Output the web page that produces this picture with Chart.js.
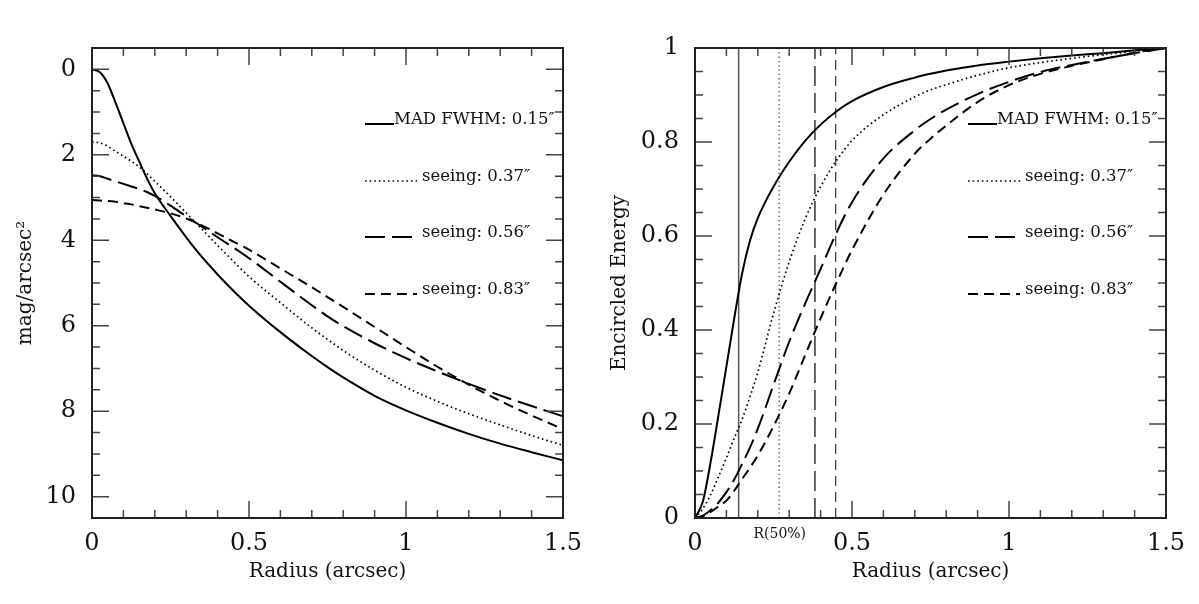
<!DOCTYPE html>
<html><head><meta charset="utf-8">
<script src="https://cdn.jsdelivr.net/npm/chart.js@4.4.1/dist/chart.umd.min.js"></script>
<style>
html,body{margin:0;padding:0;background:#fff;}
#wrap{position:relative;width:1199px;height:604px;overflow:hidden;background:#fff;}
#left{position:absolute;left:0;top:0;}
#right{position:absolute;left:600px;top:0;}
</style></head><body>
<div id="wrap"><canvas id="left" width="600" height="604"></canvas><canvas id="right" width="599" height="604"></canvas></div>
<script>
// ---------- data ----------
const radius = [0, 0.025, 0.05, 0.075, 0.1, 0.125, 0.15, 0.175, 0.2, 0.25, 0.3, 0.35, 0.4, 0.45, 0.5, 0.6, 0.7, 0.75, 0.8, 0.9, 1.0, 1.1, 1.2, 1.3, 1.4, 1.5];
const seriesLabels = ['MAD FWHM: 0.15\u2033', 'seeing: 0.37\u2033', 'seeing: 0.56\u2033', 'seeing: 0.83\u2033'];
// surface brightness (mag/arcsec^2)
const magMAD = [0, 0.07, 0.33, 0.78, 1.26, 1.74, 2.15, 2.55, 2.9, 3.43, 3.93, 4.39, 4.8, 5.18, 5.53, 6.15, 6.71, 6.97, 7.21, 7.64, 7.98, 8.27, 8.53, 8.76, 8.96, 9.15];
const mag037 = [1.7, 1.72, 1.8, 1.92, 2.03, 2.15, 2.28, 2.44, 2.62, 2.98, 3.36, 3.74, 4.12, 4.49, 4.85, 5.46, 6.05, 6.32, 6.58, 7.04, 7.44, 7.77, 8.06, 8.32, 8.57, 8.8];
const mag056 = [2.48, 2.5, 2.56, 2.62, 2.68, 2.74, 2.8, 2.87, 2.96, 3.19, 3.44, 3.68, 3.93, 4.17, 4.42, 4.97, 5.52, 5.78, 6.01, 6.41, 6.76, 7.07, 7.36, 7.63, 7.88, 8.12];
const mag083 = [3.06, 3.07, 3.08, 3.1, 3.13, 3.16, 3.2, 3.24, 3.28, 3.37, 3.49, 3.65, 3.84, 4.03, 4.22, 4.66, 5.1, 5.33, 5.56, 6.03, 6.5, 6.96, 7.38, 7.76, 8.1, 8.42];
// encircled energy
const eeMAD = [0, 0.035, 0.12, 0.22, 0.322, 0.425, 0.52, 0.59, 0.638, 0.705, 0.758, 0.802, 0.837, 0.865, 0.887, 0.917, 0.937, 0.945, 0.952, 0.963, 0.971, 0.978, 0.984, 0.989, 0.995, 1.0];
const ee037 = [0, 0.02, 0.05, 0.088, 0.128, 0.17, 0.21, 0.258, 0.31, 0.435, 0.545, 0.635, 0.705, 0.76, 0.803, 0.858, 0.896, 0.911, 0.922, 0.942, 0.958, 0.969, 0.978, 0.986, 0.993, 1.0];
const ee056 = [0, 0.005, 0.017, 0.033, 0.055, 0.082, 0.115, 0.15, 0.19, 0.283, 0.375, 0.455, 0.53, 0.606, 0.672, 0.765, 0.825, 0.849, 0.869, 0.902, 0.928, 0.949, 0.964, 0.977, 0.989, 1.0];
const ee083 = [0, 0.004, 0.013, 0.025, 0.037, 0.058, 0.083, 0.107, 0.133, 0.195, 0.265, 0.345, 0.425, 0.5, 0.57, 0.688, 0.775, 0.807, 0.835, 0.885, 0.921, 0.945, 0.962, 0.976, 0.99, 1.0];
// radius enclosing 50% of the energy, per series
const r50 = [0.139, 0.268, 0.382, 0.448];
// axes
const xTicks = [0, 0.5, 1, 1.5];
const magTicks = [0, 2, 4, 6, 8, 10];
const eeTicks = [0, 0.2, 0.4, 0.6, 0.8, 1];
const xRange = [0, 1.5];
const magRange = [-0.5, 10.5];
const eeRange = [0, 1];

// ---------- styling ----------
const FONT = '"DejaVu Serif", "Liberation Serif", serif';
const INK = '#111';
const lineStyles = [
  {borderDash: [], borderWidth: 2},
  {borderDash: [1.6, 3], borderWidth: 1.7},
  {borderDash: [20, 7], borderWidth: 2},
  {borderDash: [10, 6], borderWidth: 2}
];
const vlineStyles = [
  {borderDash: [], borderWidth: 1.5, borderColor: '#555'},
  {borderDash: [1.3, 3], borderWidth: 1.3, borderColor: '#444'},
  {borderDash: [20, 7], borderWidth: 1.4, borderColor: '#222'},
  {borderDash: [10, 6], borderWidth: 1.2, borderColor: '#333'}
];

function pts(xs, ys) { return xs.map((x, i) => ({x: x, y: ys[i]})); }

const frameTicks = {
  id: 'frameTicks',
  afterDatasetsDraw(chart, args, o) {
    const {ctx, chartArea: a} = chart;
    const xs = chart.scales.x, ys = chart.scales.y;
    ctx.save();
    ctx.setLineDash([]);
    ctx.strokeStyle = '#444';
    ctx.lineWidth = 1.5;
    ctx.beginPath();
    const isMajor = (v, arr) => arr.some(t => Math.abs(t - v) < 1e-6);
    const xlo = Math.min(xs.min, xs.max), xhi = Math.max(xs.min, xs.max);
    for (let i = Math.ceil(xlo / o.xMinor - 1e-9); i <= Math.floor(xhi / o.xMinor + 1e-9); i++) {
      const v = i * o.xMinor;
      const p = xs.getPixelForValue(v);
      const L = isMajor(v, o.xMajor) ? 17 : 8;
      ctx.moveTo(p, a.bottom); ctx.lineTo(p, a.bottom - L);
      ctx.moveTo(p, a.top); ctx.lineTo(p, a.top + L);
    }
    const ylo = Math.min(ys.min, ys.max), yhi = Math.max(ys.min, ys.max);
    for (let i = Math.ceil(ylo / o.yMinor - 1e-9); i <= Math.floor(yhi / o.yMinor + 1e-9); i++) {
      const v = i * o.yMinor;
      const p = ys.getPixelForValue(v);
      const L = isMajor(v, o.yMajor) ? 17 : 8;
      ctx.moveTo(a.left, p); ctx.lineTo(a.left + L, p);
      ctx.moveTo(a.right, p); ctx.lineTo(a.right - L, p);
    }
    ctx.stroke();
    ctx.strokeStyle = '#222';
    ctx.lineWidth = 2;
    ctx.strokeRect(a.left, a.top, a.right - a.left, a.bottom - a.top);

    // legend
    const lg = o.legend;
    const items = chart.data.datasets.filter(d => d.inLegend);
    ctx.font = lg.fontSize + 'px ' + FONT;
    ctx.fillStyle = INK;
    ctx.textAlign = 'left';
    ctx.textBaseline = 'alphabetic';
    items.forEach((d, i) => {
      const y = a.top + lg.baselines[i];
      const x0 = a.left + lg.sampleX;
      ctx.save();
      ctx.strokeStyle = d.borderColor;
      ctx.lineWidth = d.borderWidth;
      ctx.setLineDash(d.borderDash || []);
      ctx.beginPath();
      ctx.moveTo(x0, y);
      ctx.lineTo(x0 + lg.sampleLen[i], y);
      ctx.stroke();
      ctx.restore();
      ctx.fillText(d.label, a.left + lg.textX[i], y);
    });

    if (o.note) {
      ctx.font = o.note.fontSize + 'px ' + FONT;
      ctx.textAlign = 'center';
      ctx.textBaseline = 'middle';
      ctx.fillText(o.note.text, xs.getPixelForValue(o.note.x), a.bottom + o.note.dy);
    }
    ctx.restore();
  }
};

const legendOpts = {
  fontSize: 16.5,
  sampleX: 273,
  sampleLen: [29, 55, 48, 52],
  textX: [302, 330, 330, 330],
  baselines: [76, 133, 189, 246]
};

function makeChart(id, cfg) {
  const datasets = cfg.series.map((s, i) => Object.assign({
    label: seriesLabels[i],
    data: pts(radius, s),
    borderColor: '#000',
    pointRadius: 0,
    fill: false,
    cubicInterpolationMode: 'monotone',
    inLegend: true,
    borderCapStyle: 'butt'
  }, lineStyles[i]));
  (cfg.extra || []).forEach(d => datasets.push(d));
  return new Chart(document.getElementById(id), {
    type: 'line',
    data: {datasets: datasets},
    plugins: [frameTicks],
    options: {
      responsive: false,
      animation: false,
      devicePixelRatio: 1,
      layout: {padding: {left: 0, top: 48, right: cfg.padRight, bottom: 0}},
      plugins: {
        legend: {display: false},
        tooltip: {enabled: false},
        frameTicks: {xMinor: 0.1, yMinor: cfg.yMinor, xMajor: xTicks, yMajor: cfg.yTicks, legend: legendOpts, note: cfg.note}
      },
      scales: {
        x: {
          type: 'linear', position: 'bottom',
          min: xRange[0], max: xRange[1],
          afterBuildTicks: s => { s.ticks = xTicks.map(v => ({value: v})); },
          afterFit: s => { s.height = 86; },
          grid: {display: false, drawTicks: false},
          border: {display: false},
          ticks: {autoSkip: false, maxRotation: 0, padding: 11, color: INK,
                  font: {family: FONT, size: 24}, callback: v => String(v)},
          title: {display: true, text: 'Radius (arcsec)', color: INK,
                  font: {family: FONT, size: 20}, padding: {top: 0, bottom: 20}}
        },
        y: {
          type: 'linear', position: 'left',
          min: cfg.yRange[0], max: cfg.yRange[1], reverse: !!cfg.reverse,
          afterBuildTicks: s => { s.ticks = cfg.yTicks.map(v => ({value: v})); },
          afterFit: s => { s.width = cfg.yWidth; },
          grid: {display: false, drawTicks: false},
          border: {display: false},
          ticks: {autoSkip: false, padding: 16, color: INK,
                  font: {family: FONT, size: 24}, callback: v => String(v)},
          title: {display: true, text: cfg.yTitle, color: INK,
                  font: {family: FONT, size: 20}, padding: {top: cfg.titlePad, bottom: 0}}
        }
      }
    }
  });
}

makeChart('left', {
  series: [magMAD, mag037, mag056, mag083],
  yRange: magRange, reverse: true, yTicks: magTicks, yMinor: 0.5,
  yTitle: 'mag/arcsec\u00b2', yWidth: 92, padRight: 37, titlePad: 14
});

const vlines = r50.map((r, i) => Object.assign({
  label: 'R(50%) ' + seriesLabels[i],
  data: [{x: r, y: eeRange[0]}, {x: r, y: eeRange[1]}],
  pointRadius: 0, fill: false, inLegend: false, borderCapStyle: 'butt'
}, vlineStyles[i]));

makeChart('right', {
  series: [eeMAD, ee037, ee056, ee083],
  extra: vlines,
  yRange: eeRange, reverse: false, yTicks: eeTicks, yMinor: 0.05,
  yTitle: 'Encircled Energy', yWidth: 95, padRight: 33, titlePad: 8,
  note: {text: 'R(50%)', x: 0.27, dy: 16, fontSize: 14}
});
</script>
</body></html>
